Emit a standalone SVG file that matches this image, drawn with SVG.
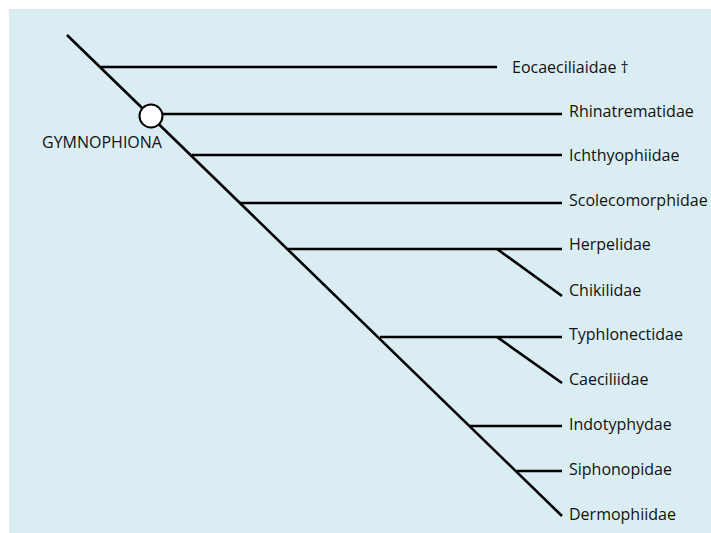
<svg xmlns="http://www.w3.org/2000/svg" width="711" height="533" viewBox="0 0 711 533">
  <style>
    .br { stroke: #000; stroke-width: 2.6; fill: none; stroke-linecap: butt; }
    .lbl { font-family: "Open Sans", "Liberation Sans", sans-serif; font-size: 16px; fill: #111; }
  </style>
  <rect x="9" y="9" width="702" height="524" fill="#daedf3"/>
  <g id="connectors">
    <line class="br" x1="67" y1="35" x2="562" y2="516"/>
    <line class="br" x1="101" y1="67" x2="497" y2="67"/>
    <line class="br" x1="151" y1="114" x2="562" y2="114"/>
    <line class="br" x1="192" y1="155" x2="562" y2="155"/>
    <line class="br" x1="240" y1="203" x2="562" y2="203"/>
    <line class="br" x1="288" y1="249" x2="562" y2="249"/>
    <line class="br" x1="497" y1="249" x2="562" y2="296"/>
    <line class="br" x1="380" y1="337" x2="562" y2="337"/>
    <line class="br" x1="497" y1="337" x2="562" y2="383"/>
    <line class="br" x1="470" y1="426" x2="562" y2="426"/>
    <line class="br" x1="517" y1="471" x2="562" y2="471"/>
  </g>
  <g id="gymnophiona">
    <circle cx="151" cy="116" r="11.5" fill="#fff" stroke="#000" stroke-width="2"/>
    <text class="lbl" x="42" y="148">GYMNOPHIONA</text>
  </g>
  <g id="eocaeciliaidae"><text class="lbl" x="512" y="73">Eocaeciliaidae †</text></g>
  <g id="rhinatrematidae"><text class="lbl" x="569" y="117">Rhinatrematidae</text></g>
  <g id="ichthyophiidae"><text class="lbl" x="569" y="161">Ichthyophiidae</text></g>
  <g id="scolecomorphidae"><text class="lbl" x="569" y="206">Scolecomorphidae</text></g>
  <g id="herpelidae"><text class="lbl" x="569" y="250">Herpelidae</text></g>
  <g id="chikilidae"><text class="lbl" x="569" y="296">Chikilidae</text></g>
  <g id="typhlonectidae"><text class="lbl" x="569" y="340">Typhlonectidae</text></g>
  <g id="caeciliidae"><text class="lbl" x="569" y="385">Caeciliidae</text></g>
  <g id="indotyphydae"><text class="lbl" x="569" y="430">Indotyphydae</text></g>
  <g id="siphonopidae"><text class="lbl" x="569" y="475">Siphonopidae</text></g>
  <g id="dermophiidae"><text class="lbl" x="569" y="520">Dermophiidae</text></g>
</svg>
